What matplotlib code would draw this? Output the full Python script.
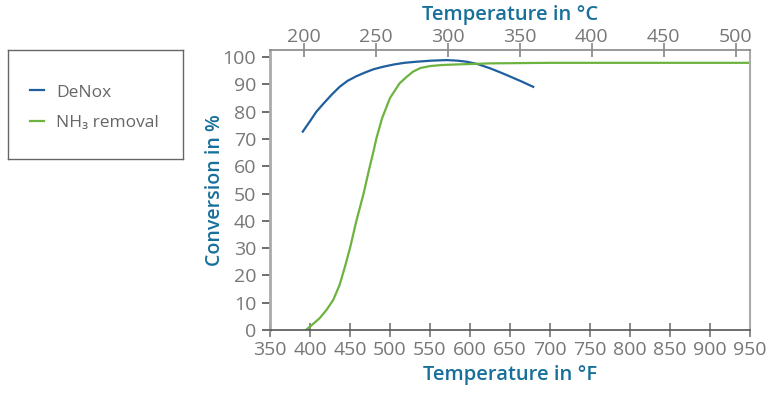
import numpy as np
import matplotlib.pyplot as plt

plt.rcParams['font.family'] = ['Open Sans', 'DejaVu Sans']

# data (temperature in F, conversion in %)
denox_F = [391, 400, 408, 417, 427, 437, 447, 458, 470, 480, 492, 505, 518, 533, 552, 571, 584, 596, 610, 625, 637, 650, 665, 679]
denox_y = [72.7, 76.5, 80.0, 83.0, 86.2, 89.1, 91.3, 93.0, 94.5, 95.6, 96.5, 97.3, 97.9, 98.3, 98.7, 98.9, 98.7, 98.3, 97.4, 95.9, 94.5, 92.9, 91.0, 89.1]

nh3_F = [395, 403, 412, 421, 429, 437, 444, 450, 458, 467, 474, 479, 483, 490, 500, 512, 521, 529, 538, 550, 565, 583, 625, 700, 800, 950]
nh3_y = [0, 2.0, 4.3, 7.5, 11.0, 16.5, 23.5, 30.0, 40.0, 50.0, 59.0, 65.0, 70.2, 77.5, 85.0, 90.4, 92.8, 94.7, 96.0, 96.7, 97.1, 97.3, 97.7, 97.9, 97.9, 97.9]

yticks = [0, 10, 20, 30, 40, 50, 60, 70, 80, 90, 100]
fticks = [350, 400, 450, 500, 550, 600, 650, 700, 750, 800, 850, 900, 950]
cticks = [200, 250, 300, 350, 400, 450, 500]

blue = '#1f5f9e'
green = '#6db33f'
label_col = '#17709a'
tick_col = '#777777'

fig = plt.figure(figsize=(7.83, 3.94), dpi=100)
ax = fig.add_axes([0.3448, 0.1624, 0.6131, 0.7107])

l1, = ax.plot(denox_F, denox_y, color=blue, lw=1.6, label='DeNox')
l2, = ax.plot(nh3_F, nh3_y, color=green, lw=1.6, label='NH₃ removal')

ax.set_xlim(350, 950)
ax.set_ylim(0, 102.6)
ax.set_xticks(fticks)
ax.set_yticks(yticks)

ax.spines['left'].set_color('#aaaaaa')
ax.spines['left'].set_linewidth(2)
ax.spines['right'].set_color('#aaaaaa')
ax.spines['right'].set_linewidth(1.5)
ax.spines['bottom'].set_color('#555555')
ax.spines['bottom'].set_linewidth(1.2)
ax.spines['top'].set_color('#888888')
ax.spines['top'].set_linewidth(1.2)

ax.tick_params(axis='y', direction='out', length=6, width=1.2, color='#555555',
               labelsize=14, labelcolor=tick_col, pad=4)
ax.tick_params(axis='x', direction='inout', length=10, width=1.2, color='#777777',
               labelsize=14, labelcolor=tick_col, pad=3)

ax.set_xlabel('Temperature in °F', fontsize=14.5, color=label_col, fontweight='semibold', labelpad=4)
ax.set_ylabel('Conversion in %', fontsize=14, color=label_col, fontweight='semibold')
ax.yaxis.set_label_coords(-0.094, 0.5)

secax = ax.secondary_xaxis('top', functions=(lambda f: (f - 32) / 1.8, lambda c: c * 1.8 + 32))
secax.set_xticks(cticks)
secax.spines['top'].set_visible(False)
secax.tick_params(direction='inout', length=10, width=1.2, color='#888888',
                  labelsize=14, labelcolor=tick_col, pad=-2)
secax.set_xlabel('Temperature in °C', fontsize=14.5, color=label_col, fontweight='semibold')
secax.xaxis.set_label_coords(0.5, 1.107, transform=ax.transAxes)

# legend box
lax = fig.add_axes([8 / 783, 0.596, 175 / 783, 0.277])
lax.set_xticks([])
lax.set_yticks([])
for s in lax.spines.values():
    s.set_color('#666666')
    s.set_linewidth(1.0)
lax.legend(handles=[l1, l2], loc='center left', bbox_to_anchor=(0.126, 0.47),
           frameon=False, fontsize=12.5, labelcolor='#666666',
           handlelength=0.8, handletextpad=0.7, labelspacing=0.85, borderaxespad=0, borderpad=0)

fig.savefig('out.png', dpi=100)
